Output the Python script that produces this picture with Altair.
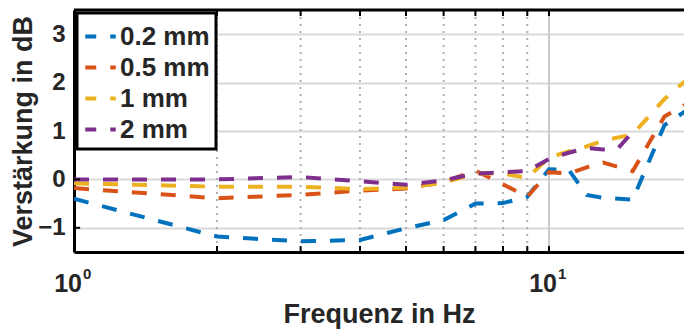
import altair as alt
import pandas as pd

# ---------------- data ----------------
series_names = ["0.2 mm", "0.5 mm", "1 mm", "2 mm"]
series_colors = ["#0072BD", "#D95319", "#EDB120", "#7E2F8E"]

freq_a = [1, 2, 3, 4, 5, 6, 7, 8, 9, 10, 11, 12, 13, 15, 17.5, 20]
gain_02 = [-0.40, -1.18, -1.28, -1.25, -1.01, -0.84, -0.50, -0.49, -0.36, 0.21, 0.20, -0.32, -0.38, -0.42, 1.12, 1.50]
gain_05 = [-0.18, -0.39, -0.32, -0.23, -0.19, -0.05, 0.18, -0.10, -0.36, 0.15, 0.12, 0.25, 0.35, 0.17, 1.30, 1.62]
gain_1 = [-0.08, -0.15, -0.15, -0.20, -0.17, -0.07, 0.12, 0.12, 0.03, 0.45, 0.58, 0.68, 0.80, 0.93, 1.66, 2.15]
freq_b = [1, 2, 3, 4, 5, 6, 7, 8, 9, 10, 11, 12, 13, 14, 15]
gain_2 = [0.00, 0.00, 0.05, -0.04, -0.11, -0.02, 0.12, 0.15, 0.17, 0.42, 0.55, 0.65, 0.62, 0.65, 0.98]

y_ticks = [-1, 0, 1, 2, 3]
x_minor = [2, 3, 4, 5, 6, 7, 8, 9]
x_major = [10]
x_label_pos = [1, 10]
x_label_base = ["10", "10"]
x_label_exp = ["0", "1"]

X_DOMAIN = [1, 19.24]
Y_DOMAIN = [-1.5, 3.5]
FONT = "Liberation Sans"
TXT = "#262626"

rows = []
for name, fr, gs in [(series_names[0], freq_a, gain_02),
                     (series_names[1], freq_a, gain_05),
                     (series_names[2], freq_a, gain_1),
                     (series_names[3], freq_b, gain_2)]:
    for i, (f, g) in enumerate(zip(fr, gs)):
        rows.append({"series": name, "f": f, "g": g, "idx": i})
df = pd.DataFrame(rows)

xscale = alt.Scale(type="log", domain=X_DOMAIN, nice=False)
yscale = alt.Scale(domain=Y_DOMAIN, nice=False, zero=False)

# ---------------- layers ----------------
minor_grid = alt.Chart(pd.DataFrame({"f": x_minor})).mark_rule(
    color="#b0b0b0", strokeWidth=2, strokeDash=[2, 5]
).encode(x=alt.X("f:Q", scale=xscale))

major_grid = alt.Chart(pd.DataFrame({"f": x_major})).mark_rule(
    color="#cccccc", strokeWidth=2
).encode(x=alt.X("f:Q", scale=xscale))

lines = alt.Chart(df).mark_line(
    strokeWidth=4, strokeDash=[15, 14], strokeCap="butt", clip=True
).encode(
    x=alt.X("f:Q", scale=xscale,
            axis=alt.Axis(labels=False, ticks=False, grid=False, domainColor="black",
                          domainWidth=3, title="Frequenz in Hz", titleFont=FONT,
                          titleFontSize=27, titleFontWeight="bold", titleColor=TXT,
                          titlePadding=49)),
    y=alt.Y("g:Q", scale=yscale,
            axis=alt.Axis(values=y_ticks, ticks=False, grid=True, gridColor="#d9d9d9",
                          gridWidth=2, domainColor="black", domainWidth=3,
                          labelFont=FONT, labelFontSize=24, labelFontWeight="bold",
                          labelColor=TXT, labelPadding=9,
                          title="Verstärkung in dB", titleFont=FONT, titleFontSize=27,
                          titleFontWeight="bold", titleColor=TXT, titlePadding=0)),
    color=alt.Color("series:N",
                    scale=alt.Scale(domain=series_names, range=series_colors),
                    legend=alt.Legend(orient="none", legendX=3, legendY=3, title=None,
                                      padding=6, strokeColor="black",
                                      fillColor="white", labelFont=FONT, labelFontSize=26,
                                      labelFontWeight="bold", labelColor=TXT,
                                      symbolType="stroke", symbolSize=930,
                                      symbolStrokeWidth=4, symbolDash=[11, 14],
                                      labelOffset=2, rowPadding=0)),
    order="idx:Q",
)

tick_len_x = 6 / 48.4
ytick_df = pd.DataFrame({"v": y_ticks, "x0": [1] * 5, "x1": [1.03] * 5})
y_inner_ticks = alt.Chart(ytick_df).mark_rule(color="black", strokeWidth=2).encode(
    y=alt.Y("v:Q", scale=yscale), x=alt.X("x0:Q", scale=xscale), x2="x1:Q")

xt = x_minor + x_major
xtick_df = pd.DataFrame({
    "f": xt,
    "b0": [Y_DOMAIN[0]] * len(xt),
    "b1": [Y_DOMAIN[0] + tick_len_x] * len(xt),
    "t0": [Y_DOMAIN[1]] * len(xt),
    "t1": [Y_DOMAIN[1] - tick_len_x] * len(xt),
})
x_bottom_ticks = alt.Chart(xtick_df).mark_rule(color="black", strokeWidth=2).encode(
    x=alt.X("f:Q", scale=xscale), y=alt.Y("b0:Q", scale=yscale), y2="b1:Q")
x_top_ticks = alt.Chart(xtick_df).mark_rule(color="black", strokeWidth=2).encode(
    x=alt.X("f:Q", scale=xscale), y=alt.Y("t0:Q", scale=yscale), y2="t1:Q")

top_border = alt.Chart(pd.DataFrame({"v": [Y_DOMAIN[1]]})).mark_rule(
    color="black", strokeWidth=3).encode(y=alt.Y("v:Q", scale=yscale))

lab_df = pd.DataFrame({"f": x_label_pos, "base": x_label_base, "exp": x_label_exp,
                       "yb": [Y_DOMAIN[0]] * 2})
x_lab_base = alt.Chart(lab_df).mark_text(
    font=FONT, fontSize=25, fontWeight="bold", color=TXT, align="right",
    baseline="alphabetic", dx=8, dy=40
).encode(x=alt.X("f:Q", scale=xscale), y=alt.Y("yb:Q", scale=yscale), text="base:N")
x_lab_exp = alt.Chart(lab_df).mark_text(
    font=FONT, fontSize=15, fontWeight="bold", color=TXT, align="left",
    baseline="alphabetic", dx=9, dy=27
).encode(x=alt.X("f:Q", scale=xscale), y=alt.Y("yb:Q", scale=yscale), text="exp:N")

chart = alt.layer(
    minor_grid, major_grid, lines, y_inner_ticks, x_bottom_ticks, x_top_ticks,
    top_border, x_lab_base, x_lab_exp
).properties(
    width=610, height=242,
    autosize=alt.AutoSizeParams(type="none"),
    padding={"left": 74, "top": 10, "right": 0, "bottom": 81},
    background="white",
).configure_view(stroke=None).configure_legend(strokeWidth=3, strokeColor="black")

chart.save("out.html", embed_options={"renderer": "svg", "actions": False})
